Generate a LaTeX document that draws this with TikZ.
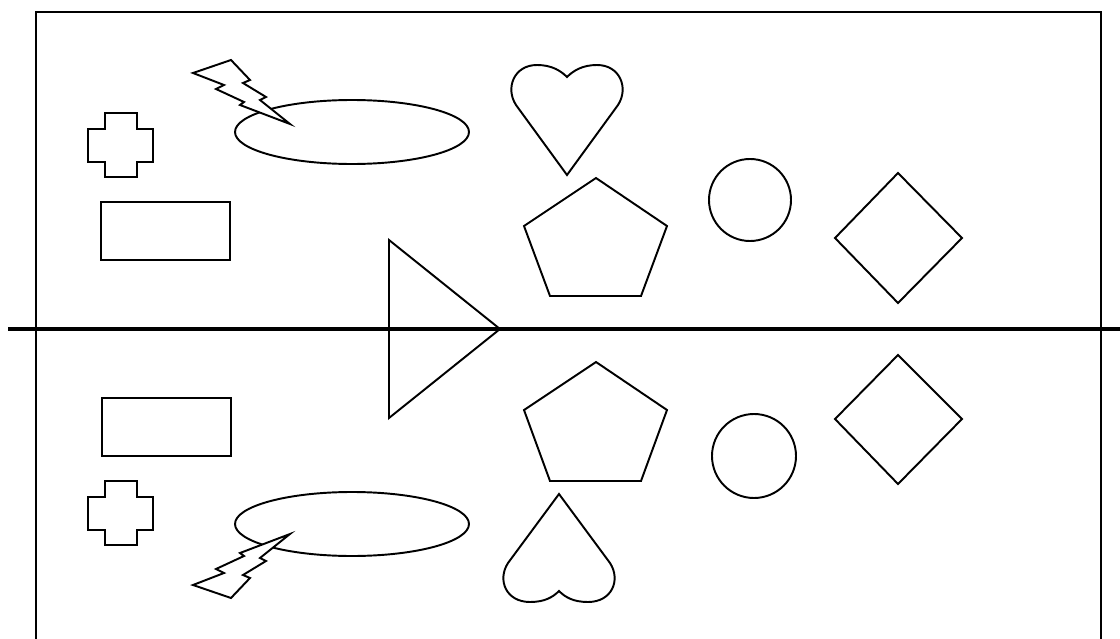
\documentclass[tikz,border=0pt]{standalone}
\usepackage{tikz}

\tikzset{
    shape line/.style={black, line width=1.1pt, line join=miter},
    axis line/.style={black, line width=2.4pt}
}

\begin{document}
\begin{tikzpicture}[x=0.02cm, y=-0.02cm]
        \useasboundingbox (0, 0) rectangle (1120, 639);

        % Frame
        \draw[shape line] (36, 660) -- (36, 12) -- (1101, 12) -- (1101, 660);

        % Mirror line
        \draw[axis line] (8, 329) -- (1125, 329);

        % Upper half
        % Cross
        \draw[shape line] (105, 113) -- (137, 113) -- (137, 129) -- (153, 129) -- (153, 162)
            -- (137, 162) -- (137, 177) -- (105, 177) -- (105, 162) -- (88, 162)
            -- (88, 129) -- (105, 129) -- cycle;
        % Box
        \draw[shape line] (101, 202) rectangle (230, 260);
        % Oval
        \draw[shape line] (352, 132) ellipse [x radius=117, y radius=32];
        % Bolt
        \draw[shape line, fill=white] (193, 73) -- (231, 60) -- (250, 80) -- (243, 83) -- (266, 97)
            -- (260, 100) -- (290, 124) -- (240, 105) -- (244, 102) -- (216, 89)
            -- (224, 85) -- cycle;
        % Heart
        \draw[shape line] (567, 175) -- (516, 105)
            .. controls (505, 88) and (514, 65) .. (537, 65)
            .. controls (552, 65) and (561, 71) .. (567, 77)
            .. controls (573, 71) and (582, 65) .. (597, 65)
            .. controls (620, 65) and (629, 88) .. (618, 105) -- cycle;
        % Pentagon
        \draw[shape line] (596, 178) -- (667, 226) -- (641, 296) -- (550, 296) -- (524, 226) -- cycle;
        % Circle
        \draw[shape line] (750, 200) circle [radius=41];
        % Diamond
        \draw[shape line] (898, 173) -- (962, 238) -- (898, 303) -- (835, 238) -- cycle;

        % Triangle on the line
        \draw[shape line] (389, 240) -- (500, 329) -- (389, 418) -- cycle;

        % Lower half
        % Cross
        \draw[shape line] (105, 481) -- (137, 481) -- (137, 497) -- (153, 497) -- (153, 530)
            -- (137, 530) -- (137, 545) -- (105, 545) -- (105, 530) -- (88, 530)
            -- (88, 497) -- (105, 497) -- cycle;
        % Box
        \draw[shape line] (102, 398) rectangle (231, 456);
        % Oval
        \draw[shape line] (352, 524) ellipse [x radius=117, y radius=32];
        % Bolt
        \draw[shape line, fill=white] (193, 585) -- (231, 598) -- (250, 578) -- (243, 575) -- (266, 561)
            -- (260, 558) -- (290, 534) -- (240, 553) -- (244, 556) -- (216, 569)
            -- (224, 573) -- cycle;
        % Heart
        \draw[shape line] (559, 494) -- (508, 563)
            .. controls (497, 580) and (506, 602) .. (530, 602)
            .. controls (545, 602) and (553, 597) .. (559, 591)
            .. controls (565, 597) and (573, 602) .. (588, 602)
            .. controls (612, 602) and (621, 580) .. (610, 563) -- cycle;
        % Pentagon
        \draw[shape line] (596, 362) -- (667, 410) -- (641, 481) -- (550, 481) -- (524, 410) -- cycle;
        % Circle
        \draw[shape line] (754, 456) circle [radius=42];
        % Diamond
        \draw[shape line] (898, 355) -- (962, 419) -- (898, 484) -- (835, 419) -- cycle;
    \end{tikzpicture}
\end{document}
